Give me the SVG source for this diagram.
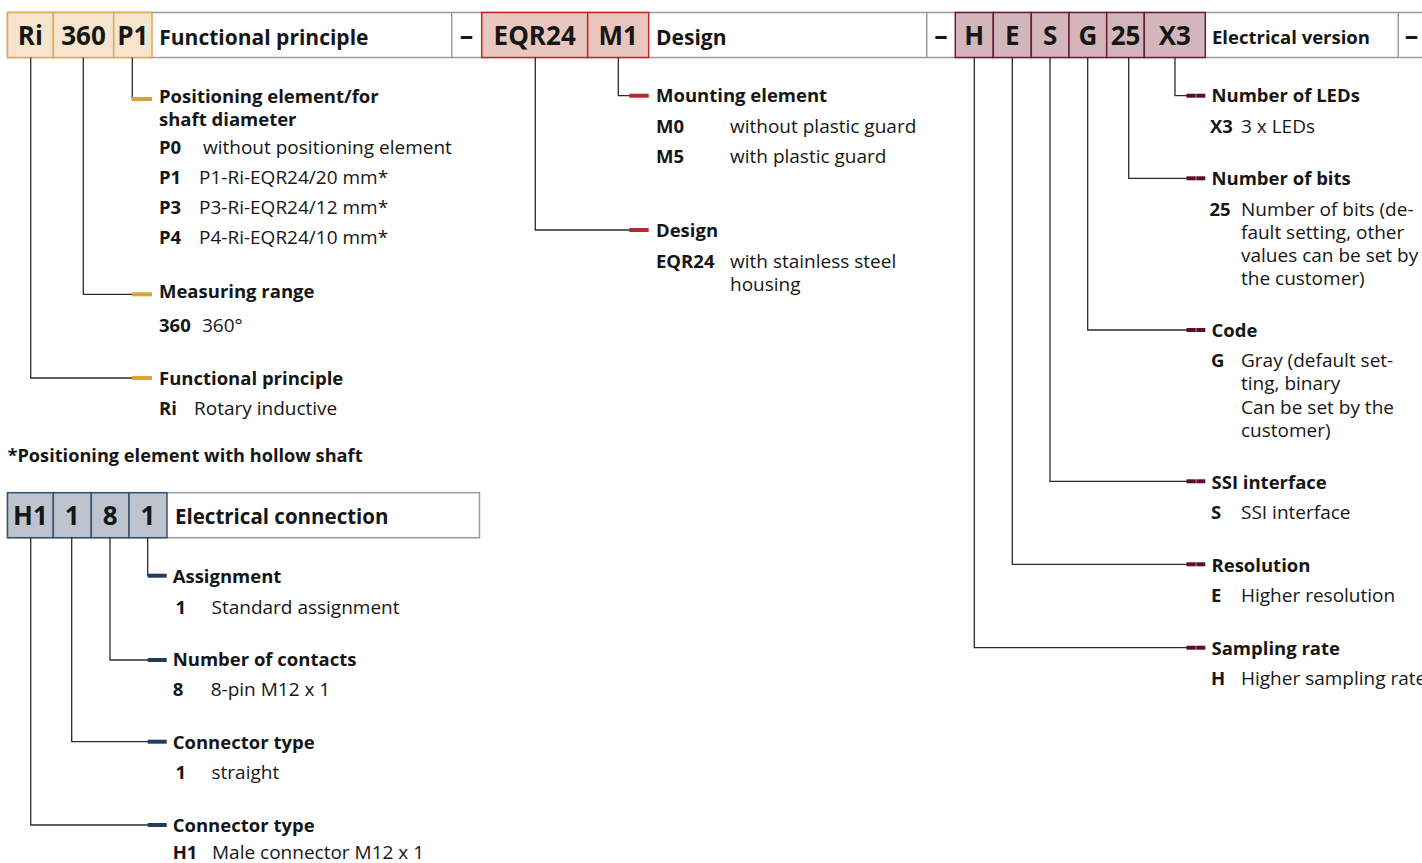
<svg xmlns="http://www.w3.org/2000/svg" width="1422" height="863" viewBox="0 0 1422 863">
<style>
text{font-family:"Open Sans","Liberation Sans",sans-serif;fill:#161616}
.code{font-size:26px;font-weight:700;text-anchor:middle}
.bar{font-size:21px;font-weight:700}
.bar2{font-size:18.5px;font-weight:700}
.h{font-size:18.5px;font-weight:700}
.k{font-size:18.5px;font-weight:700}
.v{font-size:19px;font-weight:400}
.dash{font-size:27px;font-weight:700;text-anchor:middle}
.frame{fill:#fff;stroke:#9b9b9b;stroke-width:1.5}
.sep{stroke:#9b9b9b;stroke-width:1.5}
.gold{fill:#f6e5cc;stroke:#e2a84c;stroke-width:1.5}
.red{fill:#e9c6be;stroke:#c4262e;stroke-width:1.5}
.mar{fill:#d2b6bc;stroke:#6b1a37;stroke-width:1.5}
.blu{fill:#bdc4d0;stroke:#34516e;stroke-width:1.5}
.ln{fill:none;stroke:#2b2b2b;stroke-width:1.3}
.tg{fill:#d9a23a}
.tr{fill:#b8282f}
.tm{fill:#5c0f2e}
.tb{fill:#1f3d5c}
</style>

<g id="top-bar">
<rect class="frame" x="7.5" y="12.5" width="1425" height="45"/>
<line class="sep" x1="451.7" y1="12.5" x2="451.7" y2="57.5"/>
<line class="sep" x1="926.7" y1="12.5" x2="926.7" y2="57.5"/>
<line class="sep" x1="1398.3" y1="12.5" x2="1398.3" y2="57.5"/>
<text class="dash" x="466.5" y="45">–</text>
<text class="dash" x="941" y="45">–</text>
<text class="dash" x="1411.5" y="45">–</text>
</g>

<g id="functional-principle-code">
<rect class="gold" x="7.5" y="12.5" width="45.8" height="45"/>
<rect class="gold" x="53.3" y="12.5" width="60.4" height="45"/>
<rect class="gold" x="113.7" y="12.5" width="38.3" height="45"/>
<text class="code" x="30.4" y="45">Ri</text>
<text class="code" x="83.5" y="45">360</text>
<text class="code" x="132.9" y="45">P1</text>
<text class="bar" x="159.3" y="44.5">Functional principle</text>
</g>

<g id="design-code">
<rect class="red" x="481.7" y="12.5" width="106" height="45"/>
<rect class="red" x="587.7" y="12.5" width="61" height="45"/>
<text class="code" x="534.7" y="45">EQR24</text>
<text class="code" x="618.2" y="45">M1</text>
<text class="bar" x="656" y="44.5">Design</text>
</g>

<g id="electrical-version-code">
<rect class="mar" x="955.3" y="12.5" width="38" height="45"/>
<rect class="mar" x="993.3" y="12.5" width="38" height="45"/>
<rect class="mar" x="1031.3" y="12.5" width="37.7" height="45"/>
<rect class="mar" x="1069" y="12.5" width="37.7" height="45"/>
<rect class="mar" x="1106.7" y="12.5" width="37.6" height="45"/>
<rect class="mar" x="1144.3" y="12.5" width="61" height="45"/>
<text class="code" x="974.3" y="45">H</text>
<text class="code" x="1012.3" y="45">E</text>
<text class="code" x="1050.2" y="45">S</text>
<text class="code" x="1087.9" y="45">G</text>
<text class="code" x="1125.5" y="45">25</text>
<text class="code" x="1174.8" y="45">X3</text>
<text class="bar2" x="1212" y="43.5">Electrical version</text>
</g>

<g id="electrical-connection-code">
<rect class="frame" x="7.5" y="492.7" width="472" height="45"/>
<rect class="blu" x="7.5" y="492.7" width="45.8" height="45"/>
<rect class="blu" x="53.3" y="492.7" width="38" height="45"/>
<rect class="blu" x="91.3" y="492.7" width="37.7" height="45"/>
<rect class="blu" x="129" y="492.7" width="38" height="45"/>
<text class="code" x="30.4" y="525">H1</text>
<text class="code" x="72.3" y="525">1</text>
<text class="code" x="110.2" y="525">8</text>
<text class="code" x="148" y="525">1</text>
<text class="bar" style="font-size:20.5px" x="175" y="524">Electrical connection</text>
</g>

<g id="connectors">
<path class="ln" d="M132.3 57.5V99H140"/>
<path class="ln" d="M83.3 57.5V294.3H140"/>
<path class="ln" d="M30.7 57.5V378H140"/>
<path class="ln" d="M618.3 57.5V95.7H635"/>
<path class="ln" d="M535.3 57.5V230H635"/>
<path class="ln" d="M1175 57.5V95.7H1192"/>
<path class="ln" d="M1128.7 57.5V178.3H1192"/>
<path class="ln" d="M1087.7 57.5V330H1192"/>
<path class="ln" d="M1050 57.5V481.3H1192"/>
<path class="ln" d="M1012.3 57.5V564.3H1192"/>
<path class="ln" d="M974.3 57.5V647.7H1192"/>
<path class="ln" d="M147.7 537.7V575.7H155"/>
<path class="ln" d="M110 537.7V660H155"/>
<path class="ln" d="M71.7 537.7V741.7H155"/>
<path class="ln" d="M30.7 537.7V825H155"/>
<rect class="tg" x="132" y="97" width="20" height="4"/>
<rect class="tg" x="132" y="292.3" width="20" height="4"/>
<rect class="tg" x="132" y="376" width="20" height="4"/>
<rect class="tr" x="629.3" y="93.7" width="19.4" height="4"/>
<rect class="tr" x="629.3" y="228" width="19.4" height="4"/>
<rect class="tm" x="1186.5" y="93.7" width="9.3" height="4"/><rect class="tm" x="1196.3" y="93.7" width="9" height="4"/>
<rect class="tm" x="1186.5" y="176.3" width="9.3" height="4"/><rect class="tm" x="1196.3" y="176.3" width="9" height="4"/>
<rect class="tm" x="1186.5" y="328" width="9.3" height="4"/><rect class="tm" x="1196.3" y="328" width="9" height="4"/>
<rect class="tm" x="1186.5" y="479.3" width="9.3" height="4"/><rect class="tm" x="1196.3" y="479.3" width="9" height="4"/>
<rect class="tm" x="1186.5" y="562.3" width="9.3" height="4"/><rect class="tm" x="1196.3" y="562.3" width="9" height="4"/>
<rect class="tm" x="1186.5" y="645.7" width="9.3" height="4"/><rect class="tm" x="1196.3" y="645.7" width="9" height="4"/>
<rect class="tb" x="147.7" y="573.7" width="19" height="4"/>
<rect class="tb" x="147.7" y="658" width="19" height="4"/>
<rect class="tb" x="147.7" y="739.7" width="19" height="4"/>
<rect class="tb" x="147.7" y="823" width="19" height="4"/>
</g>

<g id="positioning-element">
<text class="h" x="159" y="103">Positioning element/for<tspan x="159" y="126">shaft diameter</tspan></text>
<text class="k" x="159" y="154">P0</text><text class="v" x="203" y="154">without positioning element</text>
<text class="k" x="159" y="184">P1</text><text class="v" x="199" y="184">P1-Ri-EQR24/20 mm*</text>
<text class="k" x="159" y="214">P3</text><text class="v" x="199" y="214">P3-Ri-EQR24/12 mm*</text>
<text class="k" x="159" y="244">P4</text><text class="v" x="199" y="244">P4-Ri-EQR24/10 mm*</text>
</g>

<g id="measuring-range">
<text class="h" x="159" y="298">Measuring range</text>
<text class="k" x="159" y="332">360</text><text class="v" x="202" y="332">360°</text>
</g>

<g id="functional-principle">
<text class="h" x="159" y="385">Functional principle</text>
<text class="k" x="159" y="415">Ri</text><text class="v" x="194" y="415">Rotary inductive</text>
</g>

<g id="footnote">
<text style="font-size:18.2px;font-weight:700" x="7.5" y="461.5">*Positioning element with hollow shaft</text>
</g>

<g id="mounting-element">
<text class="h" x="656" y="102">Mounting element</text>
<text class="k" x="656" y="133">M0</text><text class="v" x="730" y="133">without plastic guard</text>
<text class="k" x="656" y="162.5">M5</text><text class="v" x="730" y="162.5">with plastic guard</text>
</g>

<g id="design">
<text class="h" x="656" y="237">Design</text>
<text class="k" x="656" y="268">EQR24</text><text class="v" x="730" y="268">with stainless steel<tspan x="730" y="290.5">housing</tspan></text>
</g>

<g id="number-of-leds">
<text class="h" x="1211.5" y="102">Number of LEDs</text>
<text class="k" x="1210" y="132.5">X3</text><text class="v" x="1241" y="132.5">3 x LEDs</text>
</g>

<g id="number-of-bits">
<text class="h" x="1211.5" y="184.5">Number of bits</text>
<text class="k" x="1209.5" y="216">25</text><text class="v" x="1241" y="216">Number of bits (de-<tspan x="1241" y="239">fault setting, other</tspan><tspan x="1241" y="262">values can be set by</tspan><tspan x="1241" y="285">the customer)</tspan></text>
</g>

<g id="code">
<text class="h" x="1211.5" y="337">Code</text>
<text class="k" x="1211" y="367">G</text><text class="v" x="1241" y="367">Gray (default set-<tspan x="1241" y="390">ting, binary</tspan><tspan x="1241" y="413.5">Can be set by the</tspan><tspan x="1241" y="437">customer)</tspan></text>
</g>

<g id="ssi-interface">
<text class="h" x="1211.5" y="488.5">SSI interface</text>
<text class="k" x="1211" y="518.5">S</text><text class="v" x="1241" y="518.5">SSI interface</text>
</g>

<g id="resolution">
<text class="h" x="1211.5" y="572">Resolution</text>
<text class="k" x="1211" y="602">E</text><text class="v" x="1241" y="602">Higher resolution</text>
</g>

<g id="sampling-rate">
<text class="h" x="1211.5" y="654.5">Sampling rate</text>
<text class="k" x="1211" y="685">H</text><text class="v" x="1241" y="685">Higher sampling rate</text>
</g>

<g id="assignment">
<text class="h" x="172.7" y="582.5">Assignment</text>
<text class="k" x="175.5" y="613.5">1</text><text class="v" x="211.5" y="613.5">Standard assignment</text>
</g>

<g id="number-of-contacts">
<text class="h" x="172.7" y="665.5">Number of contacts</text>
<text class="k" x="172.7" y="696">8</text><text class="v" x="210.7" y="696">8-pin M12 x 1</text>
</g>

<g id="connector-type-1">
<text class="h" x="172.7" y="748.5">Connector type</text>
<text class="k" x="175.5" y="779">1</text><text class="v" x="211.5" y="779">straight</text>
</g>

<g id="connector-type-h1">
<text class="h" x="172.7" y="832">Connector type</text>
<text class="k" x="172.7" y="859">H1</text><text class="v" x="212" y="859">Male connector M12 x 1</text>
</g>
</svg>
